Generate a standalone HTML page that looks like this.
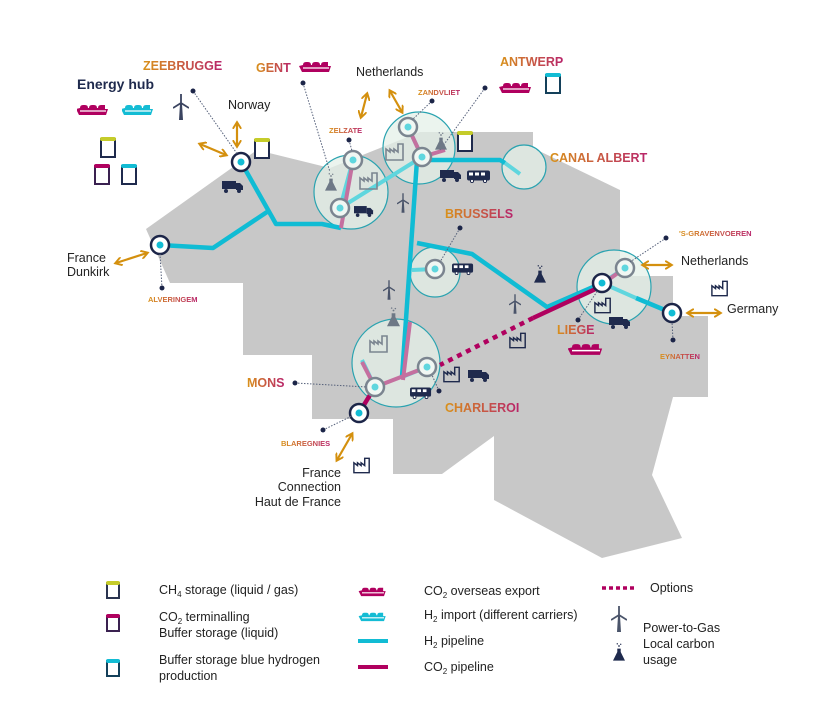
<!DOCTYPE html>
<html><head><meta charset="utf-8"><style>
body{margin:0;background:#fff;}
svg{display:block;font-family:"Liberation Sans",sans-serif;}
.t{font-size:12.5px;fill:#222;}
.lb{font-weight:bold;fill:url(#g);}
</style></head><body>
<svg width="830" height="720" viewBox="0 0 830 720" xmlns="http://www.w3.org/2000/svg">
<defs>
<linearGradient id="g" x1="0" x2="1" y1="0" y2="0"><stop offset="0" stop-color="#d9921a"/><stop offset="1" stop-color="#b8246a"/></linearGradient>
<symbol id="ship" viewBox="0 0 32 13"><path d="M3 5 q0-3 3-3 h2 q3 0 3 3 h1 q0-3 3-3 h2 q3 0 3 3 h1 q0-3 3-3 h4 v4 h3 l-2 6 h-27 l-3-6 z" fill="currentColor"/><path d="M3 8 h26" stroke="#fff" stroke-width="1.3"/></symbol>
<symbol id="truck" viewBox="0 0 22 12"><rect x="0" y="0" width="14" height="8" fill="#1f2a4d"/><path d="M14 2 h4 l3 3 v4 h-7z" fill="#1f2a4d"/><circle cx="4" cy="10" r="2" fill="#1f2a4d"/><circle cx="17" cy="10" r="2" fill="#1f2a4d"/></symbol>
<symbol id="bus" viewBox="0 0 24 12"><rect x="0" y="0" width="23" height="10" rx="2" fill="#1f2a4d"/><rect x="2" y="2" width="4" height="3" fill="#fff"/><rect x="8" y="2" width="4" height="3" fill="#fff"/><rect x="14" y="2" width="4" height="3" fill="#fff"/><circle cx="5" cy="10.5" r="1.6" fill="#fff" stroke="#1f2a4d"/><circle cx="18" cy="10.5" r="1.6" fill="#fff" stroke="#1f2a4d"/></symbol>
<symbol id="fac" viewBox="0 0 20 18"><path d="M1 17 V6 l4 3 v-3 l4 3 v-3 l4 3 V1 h5 v16 z" fill="none" stroke="currentColor" stroke-width="1.6"/></symbol>
<symbol id="tur" viewBox="0 0 16 26"><path d="M7 10 L6 26 h4 L9 10z" fill="currentColor"/><path d="M8 9 L8 0 M8 9 L0 14 M8 9 L16 14" stroke="currentColor" stroke-width="1.8"/></symbol>
<symbol id="flk" viewBox="0 0 14 22"><path d="M5 7 h4 v4 l5 10 h-14 l5-10z" fill="currentColor"/><circle cx="7" cy="4" r="1" fill="currentColor"/><circle cx="5" cy="1.5" r="0.8" fill="currentColor"/><circle cx="9" cy="2" r="0.8" fill="currentColor"/></symbol>
<marker id="ah" viewBox="0 0 10 10" refX="7" refY="5" markerWidth="4" markerHeight="4" orient="auto-start-reverse"><path d="M0 0 L8 5 L0 10" fill="none" stroke="#d4900e" stroke-width="2.2"/></marker>
</defs>

<!-- map -->
<polygon fill="#c8c8c8" points="146,229 257,150 330,168 420,132 533,132 533,148 620,190 620,276 673,276 673,316 708,316 708,397 673,397 652,475 682,538 602,558 494,500 494,436 442,474 393,474 393,419 312,419 312,355 243,355 243,283 170,283"/>

<!-- big circles -->
<g fill="#e4f0e8" fill-opacity="0.75" stroke="#2aa3b0" stroke-width="1.2">
<circle cx="351" cy="192" r="37"/><circle cx="419" cy="148" r="36"/><circle cx="524" cy="167" r="22"/><circle cx="435" cy="272" r="25"/><circle cx="396" cy="363" r="44"/><circle cx="614" cy="287" r="37"/>
</g>

<!-- H2 pipelines -->
<g fill="none" stroke="#10bcd4" stroke-width="4.5" stroke-linejoin="round">
<polyline points="241,162 276,224 322,224 341,228"/>
<polyline points="267,212 213,248 160,245"/>
<polyline points="422,160 500,160 505,163"/>
<polyline points="417,160 402,377"/>
<polyline points="417,243 472,254 547,307 602,283"/>
<polyline points="636,298 672,313"/>
<polyline points="365,403 359,413"/>
</g>
<g fill="none" stroke="#5fd6de" stroke-width="4" stroke-linejoin="round">
<polyline points="340,208 422,157"/><polyline points="353,160 340,208"/>
<polyline points="408,127 422,157"/><polyline points="505,163 520,174"/>
<polyline points="412,270 435,269"/><polyline points="602,283 636,298"/>
<polyline points="602,283 625,268"/>
<polyline points="362,360 375,387"/><polyline points="402,377 427,367"/>
</g>
<g fill="none" stroke="#c4709f" stroke-width="4" stroke-linejoin="round">
<polyline points="353,160 341,228"/><polyline points="408,127 422,157 445,150"/>
<polyline points="410,322 403,380"/><polyline points="375,387 427,367"/>
<polyline points="362,362 375,387"/><polyline points="608,280 625,268"/>
</g>
<g fill="none" stroke="#b0005f" stroke-width="4.5">
<polyline points="602,286 533,318"/>
<polyline points="533,318 440,365" stroke-dasharray="5,5"/>
<polyline points="370,395 359,413"/>
</g>

<!-- nodes -->
<g stroke="#1c2548" stroke-width="2.5" fill="#fff">
<circle cx="241" cy="162" r="9"/><circle cx="160" cy="245" r="9"/><circle cx="359" cy="413" r="9"/><circle cx="602" cy="283" r="9"/><circle cx="672" cy="313" r="9"/>
</g>
<g stroke="#7b8590" stroke-width="2.5" fill="#f0f7f3">
<circle cx="353" cy="160" r="9"/><circle cx="340" cy="208" r="9"/><circle cx="408" cy="127" r="9"/><circle cx="422" cy="157" r="9"/><circle cx="435" cy="269" r="9"/><circle cx="427" cy="367" r="9"/><circle cx="375" cy="387" r="9"/><circle cx="625" cy="268" r="9"/>
</g>
<g fill="#12bcd4">
<circle cx="241" cy="162" r="3.5"/><circle cx="160" cy="245" r="3.5"/><circle cx="359" cy="413" r="3.5"/><circle cx="602" cy="283" r="3.5"/><circle cx="672" cy="313" r="3.5"/>
</g>
<g fill="#5fd6de">
<circle cx="353" cy="160" r="3.5"/><circle cx="340" cy="208" r="3.5"/><circle cx="408" cy="127" r="3.5"/><circle cx="422" cy="157" r="3.5"/><circle cx="435" cy="269" r="3.5"/><circle cx="427" cy="367" r="3.5"/><circle cx="375" cy="387" r="3.5"/><circle cx="625" cy="268" r="3.5"/>
</g>

<!-- leader lines -->
<g stroke="#55607a" stroke-width="1" stroke-dasharray="1.5,1.5" fill="none">
<line x1="193" y1="91" x2="238" y2="155"/><line x1="303" y1="83" x2="330" y2="172"/><line x1="349" y1="140" x2="352" y2="151"/><line x1="432" y1="101" x2="412" y2="120"/><line x1="485" y1="88" x2="440" y2="150"/><line x1="460" y1="228" x2="440" y2="262"/><line x1="666" y1="238" x2="630" y2="262"/><line x1="673" y1="340" x2="672" y2="322"/><line x1="578" y1="320" x2="598" y2="290"/><line x1="295" y1="383" x2="367" y2="387"/><line x1="439" y1="391" x2="432" y2="375"/><line x1="323" y1="430" x2="352" y2="416"/><line x1="162" y1="288" x2="160" y2="254"/>
</g>
<g fill="#1c2548">
<circle cx="193" cy="91" r="2.5"/><circle cx="303" cy="83" r="2.5"/><circle cx="349" cy="140" r="2.5"/><circle cx="432" cy="101" r="2.5"/><circle cx="485" cy="88" r="2.5"/><circle cx="460" cy="228" r="2.5"/><circle cx="666" cy="238" r="2.5"/><circle cx="673" cy="340" r="2.5"/><circle cx="578" cy="320" r="2.5"/><circle cx="295" cy="383" r="2.5"/><circle cx="439" cy="391" r="2.5"/><circle cx="323" cy="430" r="2.5"/><circle cx="162" cy="288" r="2.5"/>
</g>

<!-- arrows -->
<g stroke="#d4900e" stroke-width="2.2" marker-start="url(#ah)" marker-end="url(#ah)">
<line x1="237" y1="123" x2="237" y2="146"/><line x1="200" y1="144" x2="226" y2="155"/>
<line x1="367" y1="94" x2="361" y2="117"/><line x1="390" y1="91" x2="402" y2="112"/>
<line x1="643" y1="265" x2="671" y2="265"/><line x1="688" y1="313" x2="720" y2="313"/>
<line x1="116" y1="263" x2="147" y2="253"/><line x1="352" y1="434" x2="337" y2="460"/>
</g>

<!-- tanks -->
<g stroke="#1f2a4d" stroke-width="2" fill="#fff">
<rect x="101" y="139" width="14" height="18"/><rect x="95" y="166" width="14" height="18" stroke="#3a2150"/><rect x="122" y="166" width="14" height="18"/>
<rect x="255" y="140" width="14" height="18"/><rect x="546" y="75" width="14" height="18" stroke="#14405a"/><rect x="458" y="133" width="14" height="18"/>
</g>
<g>
<rect x="100" y="137" width="16" height="4" rx="2" fill="#c5cc2a"/><rect x="94" y="164" width="16" height="4" rx="2" fill="#b0005f"/><rect x="121" y="164" width="16" height="4" rx="2" fill="#12bcd4"/>
<rect x="254" y="138" width="16" height="4" rx="2" fill="#c5cc2a"/><rect x="545" y="73" width="16" height="4" rx="2" fill="#12bcd4"/><rect x="457" y="131" width="16" height="4" rx="2" fill="#c5cc2a"/>
</g>

<!-- ships -->
<use href="#ship" x="77" y="103" width="32" height="13" color="#b0005f"/>
<use href="#ship" x="122" y="103" width="32" height="13" color="#14bcd4"/>
<use href="#ship" x="298" y="60" width="36" height="13" color="#b0005f"/>
<use href="#ship" x="498" y="81" width="36" height="13" color="#b0005f"/>
<use href="#ship" x="568" y="342" width="36" height="14" color="#b0005f"/>

<!-- turbines -->
<use href="#tur" x="173" y="92" width="16" height="30" color="#3a4460"/>
<use href="#tur" x="397" y="193" width="12" height="20" color="#4a546a"/>
<use href="#tur" x="383" y="280" width="12" height="20" color="#4a546a"/>
<use href="#tur" x="509" y="294" width="12" height="20" color="#4a546a"/>

<!-- flasks -->
<use href="#flk" x="325" y="172" width="12" height="20" color="#6e7886"/>
<use href="#flk" x="435" y="130" width="12" height="22" color="#6e7886"/>
<use href="#flk" x="387" y="305" width="13" height="24" color="#6e7886"/>
<use href="#flk" x="534" y="263" width="12" height="22" color="#1f2a4d"/>

<!-- factories -->
<use href="#fac" x="385" y="143" width="20" height="18" color="#7b8590"/>
<use href="#fac" x="359" y="172" width="20" height="18" color="#7b8590"/>
<use href="#fac" x="369" y="335" width="20" height="18" color="#7b8590"/>
<use href="#fac" x="443" y="366" width="18" height="17" color="#1f2a4d"/>
<use href="#fac" x="509" y="332" width="18" height="17" color="#1f2a4d"/>
<use href="#fac" x="594" y="297" width="18" height="17" color="#1f2a4d"/>
<use href="#fac" x="711" y="280" width="18" height="17" color="#1f2a4d"/>
<use href="#fac" x="353" y="457" width="18" height="17" color="#1f2a4d"/>

<!-- trucks / buses -->
<use href="#truck" x="222" y="181" width="22" height="12"/>
<use href="#truck" x="354" y="206" width="20" height="11"/>
<use href="#truck" x="440" y="170" width="22" height="12"/>
<use href="#truck" x="468" y="370" width="22" height="12"/>
<use href="#truck" x="609" y="317" width="22" height="12"/>
<use href="#bus" x="467" y="170" width="24" height="13"/>
<use href="#bus" x="452" y="263" width="22" height="12"/>
<use href="#bus" x="410" y="387" width="22" height="12"/>

<!-- labels -->
<g class="lb">
<text x="143" y="70" font-size="12.5">ZEEBRUGGE</text>
<text x="256" y="72" font-size="12.5">GENT</text>
<text x="500" y="66" font-size="12.5">ANTWERP</text>
<text x="329" y="133" font-size="7.5">ZELZATE</text>
<text x="418" y="95" font-size="7.5">ZANDVLIET</text>
<text x="550" y="162" font-size="12.5">CANAL ALBERT</text>
<text x="445" y="218" font-size="12.5">BRUSSELS</text>
<text x="679" y="236" font-size="7.5">'S-GRAVENVOEREN</text>
<text x="660" y="359" font-size="7.5">EYNATTEN</text>
<text x="557" y="334" font-size="12.5">LIEGE</text>
<text x="247" y="387" font-size="12.5">MONS</text>
<text x="445" y="412" font-size="12.5">CHARLEROI</text>
<text x="281" y="446" font-size="7.5">BLAREGNIES</text>
<text x="148" y="302" font-size="7.5">ALVERINGEM</text>
</g>
<text x="77" y="89" font-size="14" font-weight="bold" fill="#1f2a4d">Energy hub</text>
<g class="t">
<text x="228" y="109">Norway</text>
<text x="356" y="76">Netherlands</text>
<text x="681" y="265">Netherlands</text>
<text x="727" y="313">Germany</text>
<text x="67" y="262">France</text><text x="67" y="276">Dunkirk</text>
<text x="341" y="477" text-anchor="end">France</text>
<text x="341" y="491" text-anchor="end">Connection</text>
<text x="341" y="506" text-anchor="end">Haut de France</text>
</g>

<!-- legend -->
<g stroke-width="2" fill="#fff">
<rect x="107" y="583" width="12" height="15" stroke="#2a3450"/><rect x="107" y="616" width="12" height="15" stroke="#3a2150"/><rect x="107" y="661" width="12" height="15" stroke="#14405a"/>
</g>
<rect x="106" y="581" width="14" height="4" rx="2" fill="#c5cc2a"/><rect x="106" y="614" width="14" height="4" rx="2" fill="#b0005f"/><rect x="106" y="659" width="14" height="4" rx="2" fill="#12bcd4"/>
<use href="#ship" x="358" y="586" width="30" height="11" color="#b0005f"/>
<use href="#ship" x="358" y="611" width="30" height="11" color="#14bcd4"/>
<line x1="358" y1="641" x2="388" y2="641" stroke="#12bcd4" stroke-width="4"/>
<line x1="358" y1="667" x2="388" y2="667" stroke="#b0005f" stroke-width="4"/>
<line x1="602" y1="588" x2="635" y2="588" stroke="#b0005f" stroke-width="3.5" stroke-dasharray="4,3"/>
<use href="#tur" x="611" y="604" width="16" height="30" color="#4a546a"/>
<use href="#flk" x="613" y="641" width="12" height="22" color="#1f2a4d"/>
<g class="t">
<text x="159" y="594">CH<tspan font-size="8" dy="3">4</tspan><tspan dy="-3"> storage (liquid / gas)</tspan></text>
<text x="159" y="621">CO<tspan font-size="8" dy="3">2</tspan><tspan dy="-3"> terminalling</tspan></text>
<text x="159" y="637">Buffer storage (liquid)</text>
<text x="159" y="664">Buffer storage  blue hydrogen</text>
<text x="159" y="680">production</text>
<text x="424" y="595">CO<tspan font-size="8" dy="3">2</tspan><tspan dy="-3"> overseas export</tspan></text>
<text x="424" y="619">H<tspan font-size="8" dy="3">2</tspan><tspan dy="-3"> import (different carriers)</tspan></text>
<text x="424" y="645">H<tspan font-size="8" dy="3">2</tspan><tspan dy="-3"> pipeline</tspan></text>
<text x="424" y="671">CO<tspan font-size="8" dy="3">2</tspan><tspan dy="-3"> pipeline</tspan></text>
<text x="650" y="592">Options</text>
<text x="643" y="632">Power-to-Gas</text>
<text x="643" y="648">Local carbon</text>
<text x="643" y="664">usage</text>
</g>
</svg>
</body></html>
